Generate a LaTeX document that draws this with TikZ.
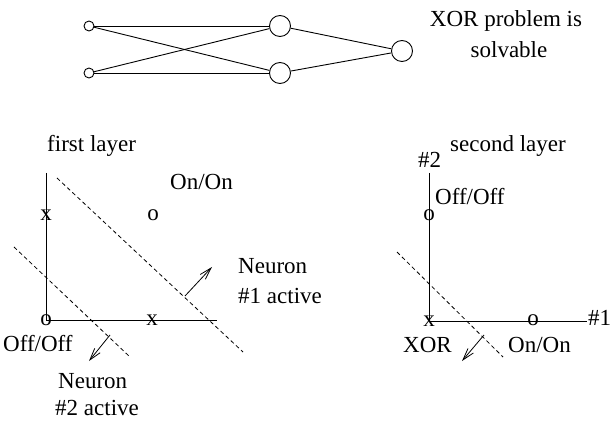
\documentclass[tikz,border=0pt]{standalone}
\usepackage{fontspec}
\setmainfont{Liberation Serif}
\usetikzlibrary{arrows.meta}
\begin{document}
\begin{tikzpicture}[x=1pt,y=-1pt,
  every node/.style={font=\fontsize{23}{27}\selectfont, inner sep=0pt},
  txt/.style={anchor=base west},
  ctxt/.style={anchor=base},
  inp/.style={circle,draw,line width=0.9pt,minimum size=10pt,inner sep=0pt},
  unit/.style={circle,draw,line width=0.9pt,minimum size=21pt,inner sep=0pt},
  conn/.style={line width=0.9pt},
  axisline/.style={line width=0.9pt},
  sepline/.style={line width=0.8pt,dash pattern=on 4pt off 3pt},
  dirarrow/.style={line width=0.8pt,-{Straight Barb[length=12pt,width=7pt]}},
  ptmark/.style={anchor=center}]
\useasboundingbox (0,0) rectangle (610,430);

% network
\node[inp]  (i1) at (89,26) {};
\node[inp]  (i2) at (89,73) {};
\node[unit] (h1) at (280,26) {};
\node[unit] (h2) at (280,73) {};
\node[unit] (o)  at (402,51) {};
\draw[conn] (i1) -- (h1);
\draw[conn] (i1) -- (h2);
\draw[conn] (i2) -- (h1);
\draw[conn] (i2) -- (h2);
\draw[conn] (h1) -- (o);
\draw[conn] (h2) -- (o);
\node[ctxt] (t1) at (506,27) {XOR problem is};
\node[ctxt] (t2) at (509,58) {solvable};

% first layer
\node[txt] (fl) at (47,152) {first layer};
\coordinate (a1top) at (46,173);
\coordinate (a1o) at (46,320);
\coordinate (a1end) at (217,320);
\draw[axisline] (a1top) -- (a1o) -- (a1end);
\node[ptmark] (p1) at (46,215) {x};
\node[ptmark] (p2) at (153,215) {o};
\node[ptmark] (p3) at (152,320) {x};
\node[ptmark] (p4) at (46,320) {o};
\node[txt] (onon1) at (170,190) {On/On};
\node[txt] (offoff1) at (3,351) {Off/Off};
\coordinate (d1a) at (57,178);
\coordinate (d1b) at (243,352);
\draw[sepline] (d1a) -- (d1b);
\coordinate (d2a) at (14,247);
\coordinate (d2b) at (130,357);
\draw[sepline] (d2a) -- (d2b);
\coordinate (ar1a) at (185,296);
\coordinate (ar1b) at (212,267);
\draw[dirarrow] (ar1a) -- (ar1b);
\coordinate (ar2a) at (110,335);
\coordinate (ar2b) at (89,361);
\draw[dirarrow] (ar2a) -- (ar2b);
\node[txt] (n1a) at (238,273) {Neuron};
\node[txt] (n1b) at (238,303) {\#1 active};
\node[txt] (n2a) at (58,388) {Neuron};
\node[txt] (n2b) at (55,415) {\#2 active};

% second layer
\node[txt] (sl) at (450,152) {second layer};
\node[txt] (ax2) at (418,168) {\#2};
\node[txt] (ax1) at (588,325) {\#1};
\coordinate (b1top) at (429,173);
\coordinate (b1o) at (429,321);
\coordinate (b1end) at (587,321);
\draw[axisline] (b1top) -- (b1o) -- (b1end);
\node[ptmark] (q1) at (429,215) {o};
\node[ptmark] (q2) at (429,321) {x};
\node[ptmark] (q3) at (533,320) {o};
\node[txt] (offoff2) at (435,205) {Off/Off};
\node[txt] (xor) at (403,352) {XOR};
\node[txt] (onon2) at (508,352) {On/On};
\coordinate (d3a) at (397,252);
\coordinate (d3b) at (503,357);
\draw[sepline] (d3a) -- (d3b);
\coordinate (ar3a) at (484,335);
\coordinate (ar3b) at (462,361);
\draw[dirarrow] (ar3a) -- (ar3b);
\end{tikzpicture}
\end{document}
